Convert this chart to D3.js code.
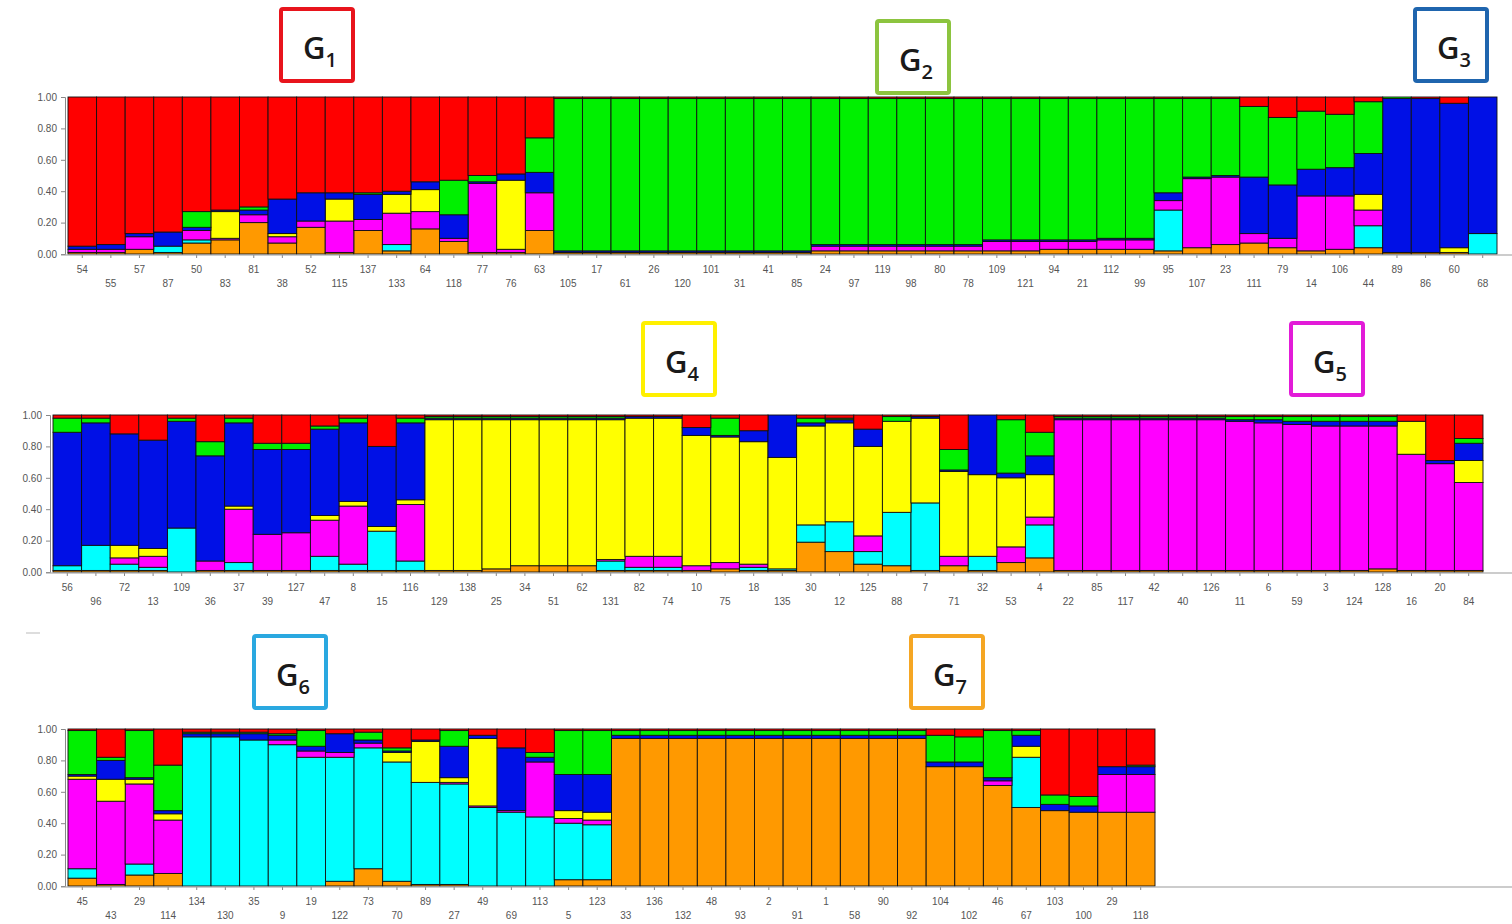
<!DOCTYPE html>
<html>
<head>
<meta charset="utf-8">
<script src="https://cdn.jsdelivr.net/npm/d3@7"></script>
<style>
  body { margin: 0; background: #fff; }
  svg { display: block; }
  .tick text { font-family: Arial, "Liberation Sans", sans-serif; fill: #555; }
</style>
</head>
<body>
<div id="chart"></div>
<script>
// cluster order, bottom to top, as in the STRUCTURE output
const clusters = ['orange', 'cyan', 'magenta', 'yellow', 'blue', 'green', 'red'];
const clusterColors = {
  orange: '#ff9900', cyan: '#00ffff', magenta: '#ff00ff', yellow: '#ffff00',
  blue: '#0010e6', green: '#00f000', red: '#ff0000'
};
const yTicks = [0, 0.2, 0.4, 0.6, 0.8, 1];

// ---- panel 1 (G1, G2, G3)
const p1Labels = ['54','55','57','87','50','83','81','38','52','115','137','133','64','118','77','76','63',
  '105','17','61','26','120','101','31','41','85','24','97','119','98','80','78','109','121','94','21','112','99',
  '95','107','23','111','79','14','106','44','89','86','60','68'];
const p1Orange  = [.01,.01,.03,.01,.07,.09,.20,.07,.17,.01,.15,.02,.16,.08,.01,.01,.15,
  .01,.01,.01,.01,.01,.01,.01,.01,.01,.02,.02,.02,.02,.02,.02,.02,.02,.03,.03,.03,.03,
  .02,.04,.06,.07,.04,.02,.03,.04,.01,.01,.01,0];
const p1Cyan    = [0,0,0,.04,.02,0,0,0,0,0,0,.04,0,0,0,0,0,
  0,0,0,0,0,0,0,0,0,0,0,0,0,0,0,0,0,0,0,0,0,
  .26,0,0,0,0,0,0,.14,0,0,0,.13];
const p1Magenta = [.02,.02,.08,0,.06,.01,.05,.04,.04,.20,.07,.20,.11,.02,.44,.02,.24,
  0,0,0,0,0,0,0,0,0,.03,.03,.03,.03,.03,.03,.06,.06,.05,.05,.06,.06,
  .06,.44,.43,.06,.06,.35,.34,.10,0,0,0,0];
const p1Yellow  = [0,0,0,0,0,.17,0,.02,0,.14,0,.12,.14,0,0,.44,0,
  0,0,0,0,0,0,0,0,0,0,0,0,0,0,0,0,0,0,0,0,0,
  0,0,0,0,0,0,0,.10,0,0,.03,0];
const p1Blue    = [.02,.03,.02,.09,.02,.01,.03,.22,.18,.04,.16,.02,.05,.15,.01,.04,.13,
  .01,.01,.01,.01,.01,.01,.01,.01,.01,.01,.01,.01,.01,.01,.01,.01,.01,.01,.01,.01,.01,
  .05,.01,.01,.36,.34,.17,.18,.26,.98,.98,.92,.87];
const p1Green   = [0,0,0,0,.10,0,.02,0,0,0,.01,0,0,.22,.04,0,.22,
  .97,.97,.97,.97,.97,.97,.97,.97,.97,.93,.93,.93,.93,.93,.93,.90,.90,.90,.90,.89,.89,
  .60,.50,.49,.45,.43,.37,.34,.33,.01,0,0,0];
const p1Red     = [.95,.94,.87,.86,.73,.72,.70,.65,.61,.61,.61,.60,.54,.53,.50,.49,.26,
  .01,.01,.01,.01,.01,.01,.01,.01,.01,.01,.01,.01,.01,.01,.01,.01,.01,.01,.01,.01,.01,
  .01,.01,.01,.06,.13,.09,.11,.03,0,.01,.04,0];

// ---- panel 2 (G4, G5)
const p2Labels = ['56','96','72','13','109','36','37','39','127','47','8','15','116',
  '129','138','25','34','51','62','131','82','74','10','75','18','135','30','12','125','88','7','71','32','53','4',
  '22','85','117','42','40','126','11','6','59','3','124','128','16','20','84'];
const p2Orange  = [.01,.01,.01,.01,0,.01,.01,.01,.01,.01,.01,.01,.01,
  .01,.01,.02,.04,.04,.04,.01,.01,.01,.01,.02,.01,.01,.19,.13,.05,.04,.01,.04,.01,.06,.09,
  .01,.01,.01,.01,.01,.01,.01,.01,.01,.01,.01,.02,.01,.01,.01];
const p2Cyan    = [.03,.16,.04,.02,.28,0,.05,0,0,.09,.04,.25,.06,
  0,0,0,0,0,0,.06,.02,.02,0,0,.02,.01,.11,.19,.08,.34,.43,0,.09,0,.21,
  0,0,0,0,0,0,0,0,0,0,0,0,0,0,0];
const p2Magenta = [0,0,.04,.07,0,.06,.34,.23,.24,.23,.37,0,.36,
  0,0,0,0,0,0,.01,.07,.07,.03,.04,.02,0,0,0,.10,0,0,.06,0,.10,.05,
  .96,.96,.96,.96,.96,.96,.95,.94,.93,.92,.92,.91,.74,.68,.56];
const p2Yellow  = [0,0,.08,.05,0,0,.02,0,0,.03,.03,.03,.03,
  .96,.96,.95,.93,.93,.93,.89,.88,.88,.83,.80,.78,.71,.63,.63,.57,.58,.54,.54,.52,.44,.27,
  0,0,0,0,0,0,0,0,0,0,0,0,.21,0,.14];
const p2Blue    = [.85,.78,.71,.69,.68,.67,.53,.54,.53,.55,.50,.51,.49,
  .01,.01,.01,.01,.01,.01,.01,.01,.01,.05,.01,.07,.27,.02,.02,.11,0,.01,.01,.38,.03,.12,
  .01,.01,.01,.01,.01,.01,.01,.02,.02,.03,.03,.03,0,.02,.11];
const p2Green   = [.09,.03,0,0,.02,.09,.03,.04,.04,.02,.03,0,.03,
  .01,.01,.01,.01,.01,.01,.01,0,0,0,.11,0,0,.03,.01,0,.03,0,.13,0,.34,.15,
  .01,.01,.01,.01,.01,.01,.02,.02,.03,.03,.03,.03,0,0,.03];
const p2Red     = [.02,.02,.12,.16,.02,.17,.02,.18,.18,.07,.02,.20,.02,
  .01,.01,.01,.01,.01,.01,.01,.01,.01,.08,.02,.10,0,.02,.02,.09,.01,.01,.22,0,.03,.11,
  .01,.01,.01,.01,.01,.01,.01,.01,.01,.01,.01,.01,.04,.29,.15];

// ---- panel 3 (G6, G7)
const p3Labels = ['45','43','29','114','134','130','35','9','19','122','73','70','89','27','49','69','113','5','123',
  '33','136','132','48','93','2','91','1','58','90','92','104','102','46','67','103','100','29','118'];
const p3Orange  = [.05,.01,.07,.08,0,0,0,0,0,.03,.11,.03,.01,.01,0,0,0,.04,.04,
  .94,.94,.94,.94,.94,.94,.94,.94,.94,.94,.94,.76,.76,.64,.50,.48,.47,.47,.47];
const p3Cyan    = [.06,0,.07,0,.95,.95,.93,.90,.82,.79,.77,.76,.65,.64,.50,.47,.44,.36,.35,
  0,0,0,0,0,0,0,0,0,0,0,0,0,0,.32,0,0,0,0];
const p3Magenta = [.57,.53,.51,.34,0,0,0,.03,.04,.03,.03,0,0,.01,.01,.01,.35,.03,.03,
  0,0,0,0,0,0,0,0,0,0,0,0,0,.03,0,0,0,.24,.24];
const p3Yellow  = [.02,.14,.03,.04,0,0,0,0,0,0,0,.06,.26,.03,.43,0,0,.05,.05,
  0,0,0,0,0,0,0,0,0,0,0,0,0,0,.07,0,0,0,0];
const p3Blue    = [.01,.12,.01,.02,.02,.02,.04,.03,.03,.12,.02,.01,.01,.20,.02,.40,.03,.23,.24,
  .02,.02,.02,.02,.02,.02,.02,.02,.02,.02,.02,.03,.03,.02,.07,.04,.04,.05,.05];
const p3Green   = [.28,.02,.30,.29,.01,.01,.01,.01,.10,0,.05,.02,0,.10,0,0,.03,.28,.28,
  .03,.03,.03,.03,.03,.03,.03,.03,.03,.03,.03,.17,.16,.30,.03,.06,.06,0,.01];
const p3Red     = [.01,.18,.01,.23,.02,.02,.02,.03,.01,.03,.02,.12,.07,.01,.04,.12,.15,.01,.01,
  .01,.01,.01,.01,.01,.01,.01,.01,.01,.01,.01,.04,.05,.01,.01,.42,.43,.24,.23];

// group boxes: name, subscript, colour
const groupNames = ['G', 'G', 'G', 'G', 'G', 'G', 'G'];
const groupSubs = ['1', '2', '3', '4', '5', '6', '7'];
const groupColors = ['#e8141c', '#8cc43f', '#1f65ae', '#fff000', '#e21bd8', '#2aa8e0', '#f5a623'];

const width = 1512;
const height = 924;

const panels = [
  { labels: p1Labels, cols: [p1Orange, p1Cyan, p1Magenta, p1Yellow, p1Blue, p1Green, p1Red],
    left: 68, right: 1497, top: 97, bottom: 254, axisX: 65,
    groups: [{ i: 0, x: 281, y: 9 }, { i: 1, x: 877, y: 21 }, { i: 2, x: 1415, y: 9 }] },
  { labels: p2Labels, cols: [p2Orange, p2Cyan, p2Magenta, p2Yellow, p2Blue, p2Green, p2Red],
    left: 53, right: 1483, top: 415, bottom: 572, axisX: 50,
    groups: [{ i: 3, x: 643, y: 323 }, { i: 4, x: 1291, y: 323 }] },
  { labels: p3Labels, cols: [p3Orange, p3Cyan, p3Magenta, p3Yellow, p3Blue, p3Green, p3Red],
    left: 68, right: 1155, top: 729, bottom: 886, axisX: 65,
    groups: [{ i: 5, x: 254, y: 636 }, { i: 6, x: 911, y: 636 }] }
];

const svg = d3.select('#chart')
  .append('svg')
  .attr('width', width)
  .attr('height', height)
  .attr('viewBox', `0 0 ${width} ${height}`);

const stack = d3.stack().keys(clusters);

panels.forEach(p => {
  const rows = p.labels.map((lab, i) => {
    const r = { idx: i, id: lab };
    clusters.forEach((k, j) => { r[k] = p.cols[j][i]; });
    return r;
  });

  const x = d3.scaleBand()
    .domain(d3.range(rows.length))
    .range([p.left, p.right])
    .padding(0);

  const y = d3.scaleLinear()
    .domain([0, 1])
    .range([p.bottom, p.top]);

  const g = svg.append('g');

  const layers = g.selectAll('.layer')
    .data(stack(rows))
    .enter().append('g')
    .attr('class', 'layer')
    .attr('fill', d => clusterColors[d.key]);

  layers.selectAll('rect')
    .data(d => d.filter(s => s[1] - s[0] > 0))
    .enter().append('rect')
    .attr('x', d => x(d.data.idx))
    .attr('width', x.bandwidth())
    .attr('y', d => y(d[1]))
    .attr('height', d => y(d[0]) - y(d[1]))
    .attr('stroke', '#111')
    .attr('stroke-width', 0.9);

  // y axis
  const yAxis = g.append('g')
    .attr('transform', `translate(${p.axisX},0)`)
    .call(d3.axisLeft(y).tickValues(yTicks).tickFormat(d3.format('.2f')).tickSize(4));
  yAxis.select('.domain').attr('stroke', '#888');
  yAxis.selectAll('.tick line').attr('stroke', '#888');
  yAxis.selectAll('.tick text').attr('font-size', 10).attr('x', -8);

  // x axis with alternating label rows
  const xAxis = g.append('g')
    .attr('transform', `translate(0,${p.bottom + 1})`)
    .call(d3.axisBottom(x).tickSize(3).tickFormat(i => p.labels[i]));
  xAxis.select('.domain').remove();
  xAxis.selectAll('.tick line').attr('stroke', '#888');
  xAxis.selectAll('.tick text')
    .attr('font-size', 10)
    .attr('y', i => (i % 2 ? 25 : 11));

  g.append('line')
    .attr('x1', p.axisX - 4).attr('x2', width)
    .attr('y1', p.bottom + 1).attr('y2', p.bottom + 1)
    .attr('stroke', '#999')
    .attr('stroke-width', 1.2);

  // group boxes
  p.groups.forEach(b => {
    const box = svg.append('g').attr('transform', `translate(${b.x},${b.y})`);
    box.append('rect')
      .attr('width', 72).attr('height', 72)
      .attr('rx', 2)
      .attr('fill', '#fff')
      .attr('stroke', groupColors[b.i])
      .attr('stroke-width', 4);
    const t = box.append('text')
      .attr('x', 22).attr('y', 50)
      .attr('font-family', '"Open Sans", "Noto Sans", sans-serif')
      .attr('font-weight', 600)
      .attr('font-size', 31)
      .attr('fill', '#1a1a1a');
    t.append('tspan').text(groupNames[b.i]);
    t.append('tspan').attr('dy', 8).attr('font-size', 20).text(groupSubs[b.i]);
  });
});

// small stray mark left of the third panel
svg.append('line')
  .attr('x1', 26).attr('x2', 40).attr('y1', 633).attr('y2', 633)
  .attr('stroke', '#bbb');
</script>
</body>
</html>
